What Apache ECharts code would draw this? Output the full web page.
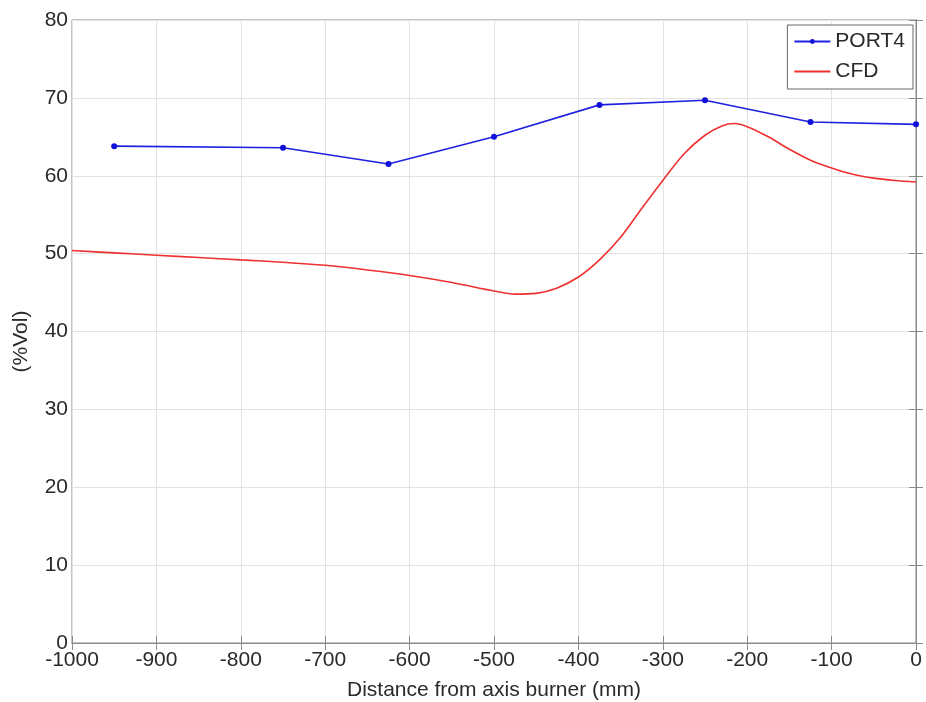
<!DOCTYPE html>
<html><head><meta charset="utf-8">
<script src="https://cdn.jsdelivr.net/npm/echarts@6/dist/echarts.min.js"></script>
<style>html,body{margin:0;padding:0;background:#fff}#c{width:926px;height:702px}</style>
</head><body><div id="c"></div>
<script>
const port4X = [-950, -750, -625, -500, -375, -250, -125, 0];
const port4Y = [63.8, 63.6, 61.5, 65.0, 69.1, 69.7, 66.9, 66.6];
const cfdX = [-1000,-950,-900,-850,-800,-750,-700,-650,-600,-550,-500,-475,-450,-425,-400,-375,-350,-325,-300,-275,-250,-230,-215,-200,-175,-150,-125,-100,-75,-50,-25,0];
const cfdY = [50.4,50.1,49.8,49.5,49.2,48.9,48.5,47.9,47.2,46.3,45.2,44.8,44.9,45.6,47.0,49.2,52.1,55.8,59.4,62.8,65.2,66.4,66.7,66.3,65.0,63.4,62.0,61.0,60.2,59.7,59.4,59.2];
const xTicks = {min:-1000, max:0, interval:100};
const yTicks = {min:0, max:80, interval:10};

const font = 'Liberation Sans, Arial, sans-serif';
const textColor = '#2a2a2a';
const axisGray = '#8a8a8a';
const chart = echarts.init(document.getElementById('c'));
chart.setOption({
  animation:false,
  backgroundColor:'#fff',
  grid:{left:72, right:10, top:20, bottom:59, show:true, borderColor:axisGray, borderWidth:1,
        containLabel:false, outerBoundsMode:'none'},
  legend:{
    right:13, top:25, orient:'vertical', itemGap:9,
    backgroundColor:'#fff', borderColor:'#666', borderWidth:1, padding:[6,8,7,6],
    itemWidth:36, itemHeight:6,
    textStyle:{fontFamily:font, fontSize:21, color:textColor},
    data:[{name:'PORT4'},{name:'CFD', itemStyle:{opacity:0}}]
  },
  xAxis:[{
    type:'value', min:xTicks.min, max:xTicks.max, interval:xTicks.interval,
    name:'Distance from axis burner (mm)', nameLocation:'middle', nameGap:37,
    nameTextStyle:{fontFamily:font, fontSize:21, color:textColor},
    axisLine:{show:true, lineStyle:{color:axisGray}},
    axisTick:{show:true, inside:true, length:7, lineStyle:{color:axisGray}},
    axisLabel:{fontFamily:font, fontSize:21, color:textColor, margin:7, formatter:v=>String(v)},
    splitLine:{show:true, lineStyle:{color:'#e2e2e2', width:1}}
  },{
    type:'value', position:'top', min:xTicks.min, max:xTicks.max, interval:xTicks.interval,
    axisLine:{show:true, lineStyle:{color:axisGray}},
    axisTick:{show:true, inside:true, length:7, lineStyle:{color:axisGray}},
    axisLabel:{show:false}, splitLine:{show:false}
  }],
  yAxis:[{
    type:'value', min:yTicks.min, max:yTicks.max, interval:yTicks.interval,
    name:'(%Vol)', nameLocation:'middle', nameGap:40, nameRotate:90,
    nameTextStyle:{fontFamily:font, fontSize:21, color:textColor, padding:[0,0,0,-20]},
    axisLine:{show:true, lineStyle:{color:axisGray}},
    axisTick:{show:true, inside:true, length:7, lineStyle:{color:axisGray}},
    axisLabel:{fontFamily:font, fontSize:21, color:textColor, margin:4},
    splitLine:{show:true, lineStyle:{color:'#e2e2e2', width:1}}
  },{
    type:'value', position:'right', min:yTicks.min, max:yTicks.max, interval:yTicks.interval,
    axisLine:{show:true, lineStyle:{color:axisGray}},
    axisTick:{show:true, inside:true, length:7, lineStyle:{color:axisGray}},
    axisLabel:{show:false}, splitLine:{show:false}
  }],
  series:[{
    name:'PORT4', type:'line',
    data: port4X.map((x,i)=>[x, port4Y[i]]),
    symbol:'circle', symbolSize:6,
    itemStyle:{color:'#1010d8'},
    lineStyle:{color:'#2020e0', width:1.6}
  },{
    name:'CFD', type:'line',
    data: cfdX.map((x,i)=>[x, cfdY[i]]),
    smooth:0.3, showSymbol:false, symbol:'none',
    itemStyle:{color:'#ee3030'},
    lineStyle:{color:'#ee3030', width:1.6}
  }]
});
</script></body></html>
